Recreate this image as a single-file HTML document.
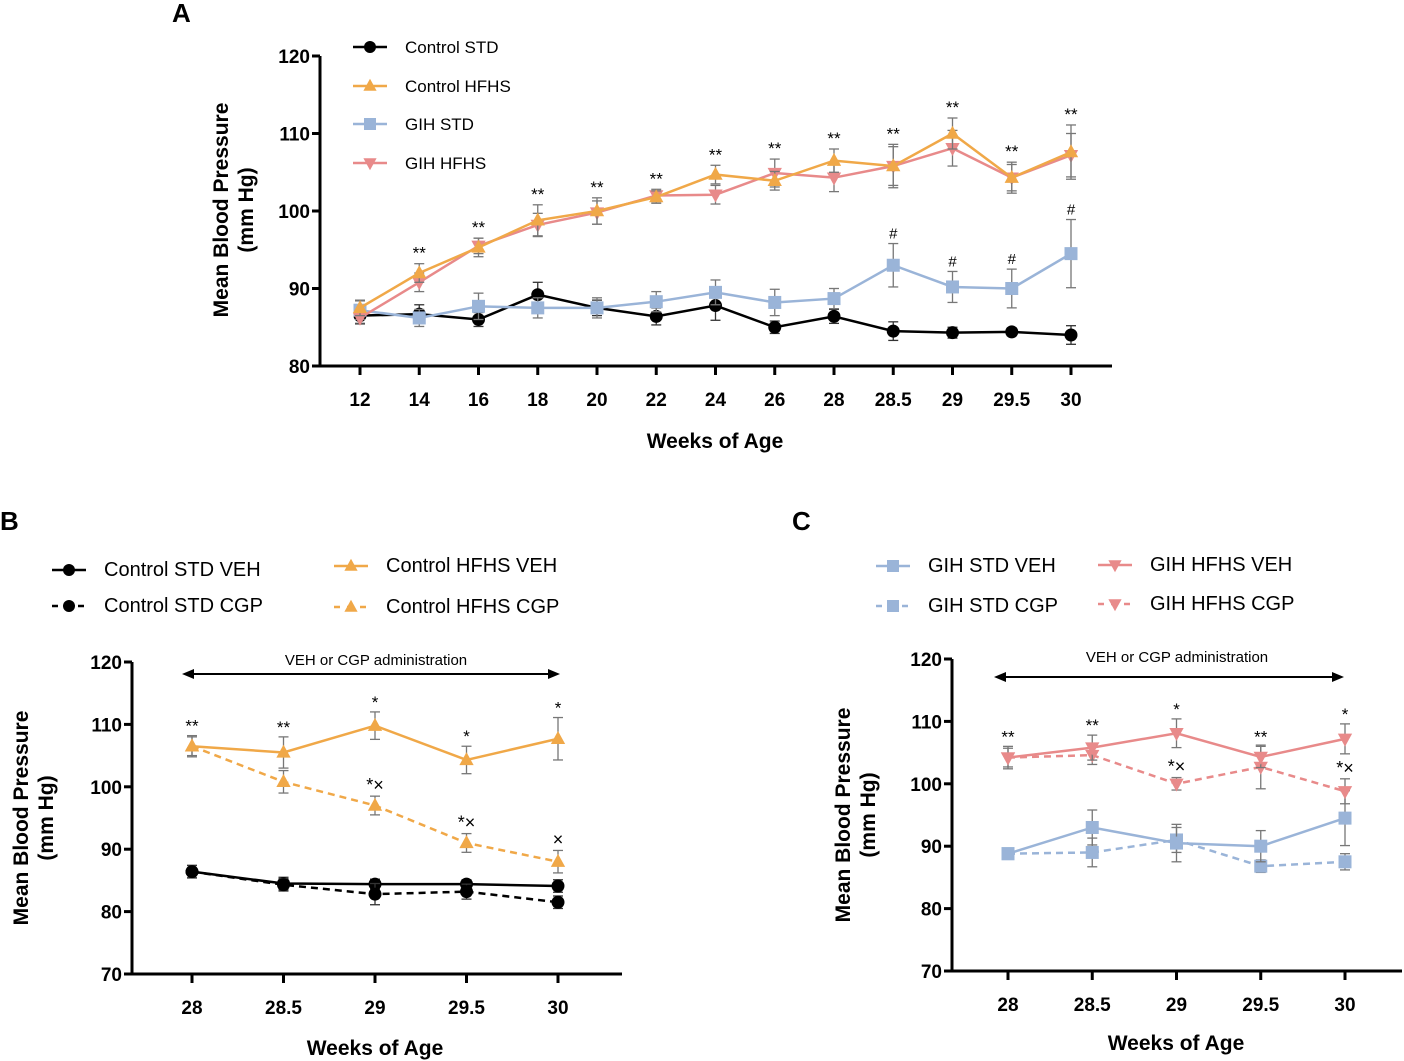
<!DOCTYPE html>
<html><head><meta charset="utf-8"><style>
body{margin:0;background:#fff;}
svg{display:block;font-family:"Liberation Sans",sans-serif;}
</style></head><body>
<svg id="s" width="1404" height="1061" viewBox="0 0 1404 1061" xmlns="http://www.w3.org/2000/svg"></svg>
<script>
// Panel A data
const catsA=["12","14","16","18","20","22","24","26","28","28.5","29","29.5","30"];
const aCtrlStd=[86.5,86.7,86,89.2,87.5,86.4,87.8,85,86.4,84.5,84.3,84.4,84];
const aCtrlStdErr=[1,1.2,0.9,1.6,1,1.1,1.9,0.8,0.9,1.2,0.7,0.5,1.2];
const aCtrlHfhs=[87.5,92,95.3,98.8,100,101.8,104.7,103.9,106.5,105.8,110,104.3,107.6];
const aCtrlHfhsErr=[1,1.2,1.2,2,1.7,0.8,1.2,1.2,1.5,2.5,2,2,3.5];
const aGihStd=[87.2,86.2,87.7,87.5,87.5,88.3,89.5,88.2,88.7,93,90.2,90,94.5];
const aGihStdErr=[1.2,1.1,1.7,1.3,1.3,1.3,1.6,1.7,1.3,2.8,2,2.5,4.4];
const aGihHfhs=[86.2,90.8,95.5,98.2,99.8,102,102.1,104.9,104.3,105.8,108.1,104.3,107.2];
const aGihHfhsErr=[0.8,1.2,1,1.5,1.5,0.8,1.2,1.8,1.8,2.8,2.3,1.7,2.8];
const aStars=["","**","**","**","**","**","**","**","**","**","**","**","**"];
const aHash=["","","","","","","","","","#","#","#","#"];
// Panel B data
const catsBC=["28","28.5","29","29.5","30"];
const bStdVeh=[86.4,84.5,84.4,84.4,84.1];
const bStdVehErr=[1,1,0.8,0.7,1];
const bStdCgp=[86.4,84.3,82.8,83.2,81.5];
const bStdCgpErr=[1,1,1.7,1.2,1];
const bHfVeh=[106.5,105.5,109.8,104.3,107.7];
const bHfVehErr=[1.7,2.5,2.2,2.2,3.4];
const bHfCgp=[106.5,100.8,97,91,88];
const bHfCgpErr=[1.5,1.8,1.5,1.5,1.8];
const bStars=["**","**","*","*","*"];
const bCgpMarks=["","","*×","*×","×"];
// Panel C data
const cStdVeh=[88.8,93,90.5,90,94.5];
const cStdVehErr=[0.8,2.8,3,2.5,4.4];
const cStdCgp=[88.8,89,91,86.8,87.5];
const cStdCgpErr=[0.8,2.3,2,1,1.3];
const cHfVeh=[104.2,105.8,108.1,104.3,107.2];
const cHfVehErr=[1.8,2,2.3,1.7,2.4];
const cHfCgp=[104.2,104.6,100,102.7,98.8];
const cHfCgpErr=[1.5,1.5,1,3.5,2];
const cStars=["**","**","*","**","*"];
const cCgpMarks=["","","*×","","*×"];

const NS="http://www.w3.org/2000/svg";
const S=document.getElementById('s');
function el(tag,at,parent,txt){const e=document.createElementNS(NS,tag);for(const k in at)e.setAttribute(k,at[k]);if(txt!==undefined)e.textContent=txt;(parent||S).appendChild(e);return e;}
const BLK="#000",ORG="#f0a848",BLU="#9ab4d8",PNK="#e88a8a";

function marker(g,shape,x,y,c,sz){
  let e;
  if(shape==='c')e=el('circle',{cx:x,cy:y,r:sz},g);
  else if(shape==='s')e=el('rect',{x:x-sz,y:y-sz,width:2*sz,height:2*sz},g);
  else if(shape==='u')e=el('polygon',{points:`${x},${y-sz*1.2} ${x-sz*1.1},${y+sz*0.8} ${x+sz*1.1},${y+sz*0.8}`},g);
  else e=el('polygon',{points:`${x},${y+sz*1.2} ${x-sz*1.1},${y-sz*0.8} ${x+sz*1.1},${y-sz*0.8}`},g);
  e.setAttribute('fill',c);
  return e;
}
function series(name,xf,yf,vals,errs,color,shape,dash,sz){
  const g=el('g',{});
  
  
  vals.forEach((v,i)=>{const x=xf(i),y1=yf(v+errs[i]),y2=yf(v-errs[i]);
    const ec=color===BLK?'#333':'#777';
    el('line',{x1:x,x2:x,y1:y1,y2:y2,stroke:ec,'stroke-width':1.3},g);
    el('line',{x1:x-5,x2:x+5,y1:y1,y2:y1,stroke:ec,'stroke-width':1.3},g);
    el('line',{x1:x-5,x2:x+5,y1:y2,y2:y2,stroke:ec,'stroke-width':1.3},g);});
  const pts=vals.map((v,i)=>xf(i)+','+yf(v)).join(' ');
  const pl=el('polyline',{points:pts,fill:'none',stroke:color,'stroke-width':2.5},g);
  if(dash)pl.setAttribute('stroke-dasharray','7,5');
  vals.forEach((v,i)=>{const m=marker(g,shape,xf(i),yf(v),color,sz);
    
    });
}
function axes(name,x0,x1,yTop,yBot,ymin,ymax,step,cats,xf,yf,ylab1,ylab2,xlabX,xlabY,ylabX,ylabY){
  const g=el('g',{});
  
  
  el('line',{x1:x0,x2:x0,y1:yTop,y2:yBot,stroke:'#000','stroke-width':3},g);
  el('line',{x1:x0,x2:x1,y1:yBot,y2:yBot,stroke:'#000','stroke-width':3},g);
  for(let v=ymin;v<=ymax;v+=step){const y=yf(v);
    el('line',{x1:x0-8,x2:x0,y1:y,y2:y,stroke:'#000','stroke-width':3},g);
    el('text',{x:x0-10,y:y+7,'text-anchor':'end','font-size':19,'font-weight':'bold'},g,String(v));}
  cats.forEach((c,i)=>{const x=xf(i);
    el('line',{x1:x,x2:x,y1:yBot,y2:yBot+9,stroke:'#000','stroke-width':3},g);
    el('text',{x:x,y:yBot+40,'text-anchor':'middle','font-size':19,'font-weight':'bold'},g,c);});
  const xl=el('text',{x:xlabX,y:xlabY,'text-anchor':'middle','font-size':21,'font-weight':'bold'},g,'Weeks of Age');
  
  const yl=el('text',{transform:`translate(${ylabX},${ylabY}) rotate(-90)`,'text-anchor':'middle','font-size':21,'font-weight':'bold'},g);
  
  el('tspan',{x:0,dy:0},yl,ylab1);el('tspan',{x:0,dy:25},yl,ylab2);
}
function legend(x,y,label,color,shape,dash,fs){
  const g=el('g',{});
  
  
  const l=el('line',{x1:x,x2:x+34,y1:y,y2:y,stroke:color,'stroke-width':2.5},g);
  if(dash)l.setAttribute('stroke-dasharray','6,7');
  marker(g,shape,x+17,y,color,6);
  el('text',{x:x+52,y:y+6,'font-size':fs},g,label);
}
function ann(x,y,t,fs){el('text',{x:x,y:y,'text-anchor':'middle','font-size':fs||17},S,t);}

// ---------- Panel A ----------
el('text',{x:172,y:22,'font-size':26,'font-weight':'bold'},S,'A');
const xA=i=>360+i*59.25, yA=v=>366-(v-80)*7.75;
axes('panel-a-axes',320,1112,56,366,80,120,10,catsA,xA,yA,'Mean Blood Pressure','(mm Hg)',715,448,228,210);
series('a-control-std',xA,yA,aCtrlStd,aCtrlStdErr,BLK,'c',false,6.5);
series('a-gih-std',xA,yA,aGihStd,aGihStdErr,BLU,'s',false,6.5);
series('a-gih-hfhs',xA,yA,aGihHfhs,aGihHfhsErr,PNK,'d',false,6.5);
series('a-control-hfhs',xA,yA,aCtrlHfhs,aCtrlHfhsErr,ORG,'u',false,6.5);
aStars.forEach((t,i)=>{if(t)ann(xA(i),yA(Math.max(aCtrlHfhs[i]+aCtrlHfhsErr[i],aGihHfhs[i]+aGihHfhsErr[i]))-5,t);});
aHash.forEach((t,i)=>{if(t)ann(xA(i),yA(aGihStd[i]+aGihStdErr[i])-5,t,15);});
legend(353,47,'Control STD',BLK,'c',false,17);
legend(353,86,'Control HFHS',ORG,'u',false,17);
legend(353,124,'GIH STD',BLU,'s',false,17);
legend(353,163,'GIH HFHS',PNK,'d',false,17);

// ---------- Panel B ----------
el('text',{x:0,y:530,'font-size':26,'font-weight':'bold'},S,'B');
const xB=i=>192+i*91.5, yB=v=>974-(v-70)*6.24;
axes('panel-b-axes',132,622,662,974,70,120,10,catsBC,xB,yB,'Mean Blood Pressure','(mm Hg)',375,1055,28,818);
series('b-std-veh',xB,yB,bStdVeh,bStdVehErr,BLK,'c',false,6.5);
series('b-std-cgp',xB,yB,bStdCgp,bStdCgpErr,BLK,'c',true,6.5);
series('b-hfhs-cgp',xB,yB,bHfCgp,bHfCgpErr,ORG,'u',true,6.5);
series('b-hfhs-veh',xB,yB,bHfVeh,bHfVehErr,ORG,'u',false,6.5);
bStars.forEach((t,i)=>ann(xB(i),yB(bHfVeh[i]+bHfVehErr[i])-4,t));
bCgpMarks.forEach((t,i)=>{if(t)ann(xB(i),yB(bHfCgp[i]+bHfCgpErr[i])-5,t,18);});
el('line',{x1:190,x2:552,y1:674,y2:674,stroke:'#000','stroke-width':2});
el('polygon',{points:'182,674 194,669 194,679'});el('polygon',{points:'560,674 548,669 548,679'});
el('text',{x:376,y:665,'text-anchor':'middle','font-size':15},S,'VEH or CGP administration');
legend(52,570,'Control STD VEH',BLK,'c',false,20);
legend(52,606,'Control STD CGP',BLK,'c',true,20);
legend(334,566,'Control HFHS VEH',ORG,'u',false,20);
legend(334,607,'Control HFHS CGP',ORG,'u',true,20);

// ---------- Panel C ----------
el('text',{x:792,y:530,'font-size':26,'font-weight':'bold'},S,'C');
const xC=i=>1008+i*84.25, yC=v=>971-(v-70)*6.24;
axes('panel-c-axes',952,1402,659,971,70,120,10,catsBC,xC,yC,'Mean Blood Pressure','(mm Hg)',1176,1050,850,815);
series('c-std-cgp',xC,yC,cStdCgp,cStdCgpErr,BLU,'s',true,6.5);
series('c-std-veh',xC,yC,cStdVeh,cStdVehErr,BLU,'s',false,6.5);
series('c-hfhs-cgp',xC,yC,cHfCgp,cHfCgpErr,PNK,'d',true,6.5);
series('c-hfhs-veh',xC,yC,cHfVeh,cHfVehErr,PNK,'d',false,6.5);
cStars.forEach((t,i)=>ann(xC(i),yC(cHfVeh[i]+cHfVehErr[i])-4,t));
cCgpMarks.forEach((t,i)=>{if(t)ann(xC(i),yC(cHfCgp[i]+cHfCgpErr[i])-5,t,18);});
el('line',{x1:1002,x2:1336,y1:677,y2:677,stroke:'#000','stroke-width':2});
el('polygon',{points:'994,677 1006,672 1006,682'});el('polygon',{points:'1344,677 1332,672 1332,682'});
el('text',{x:1177,y:662,'text-anchor':'middle','font-size':15},S,'VEH or CGP administration');
legend(876,566,'GIH STD VEH',BLU,'s',false,20);
legend(876,606,'GIH STD CGP',BLU,'s',true,20);
legend(1098,565,'GIH HFHS VEH',PNK,'d',false,20);
legend(1098,604,'GIH HFHS CGP',PNK,'d',true,20);
</script>
</body></html>
